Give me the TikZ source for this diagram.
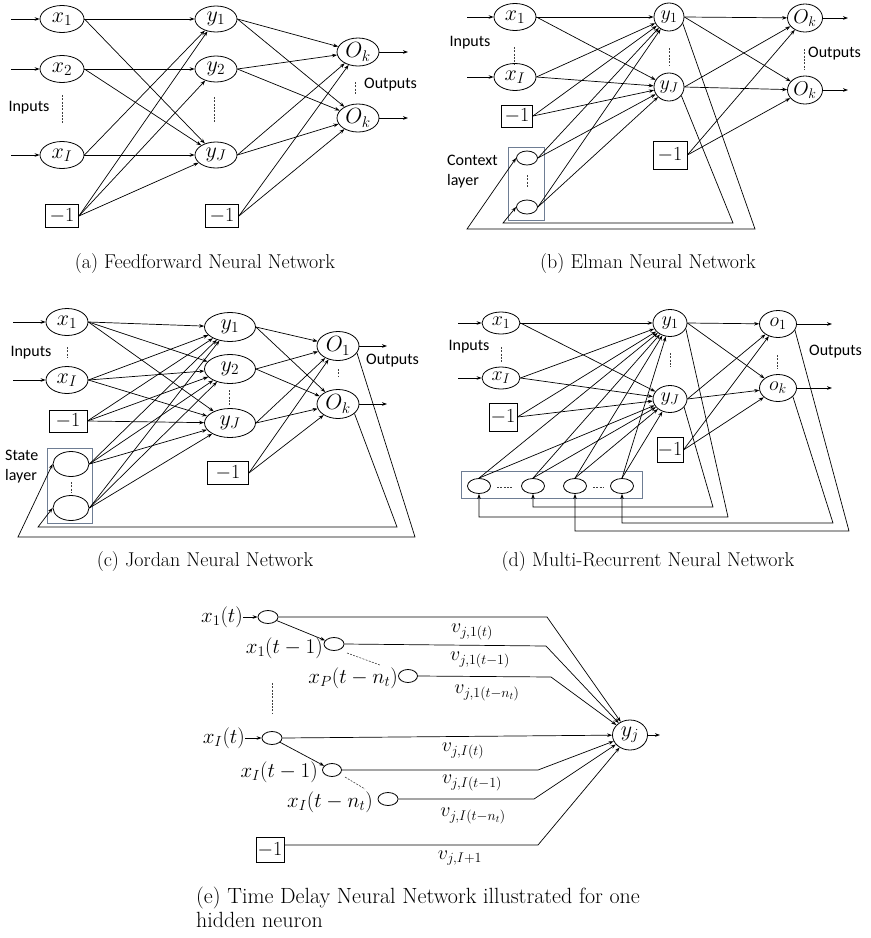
\RequirePackage{fix-cm}
\documentclass[tikz,border=0pt]{standalone}
\usepackage{fontspec}
\newfontfamily\calib{Carlito}
\usetikzlibrary{shapes.geometric,arrows.meta}
\definecolor{laycol}{RGB}{110,125,148}
\begin{document}
\begin{tikzpicture}[x=1pt,y=-1pt,
  nd/.style={draw, ellipse, inner sep=0pt, line width=0.8pt, font=\fontsize{22}{24}\selectfont},
  nds/.style={nd, font=\fontsize{20}{22}\selectfont},
  sz/.style 2 args={minimum width=#1pt, minimum height=#2pt},
  bx/.style={draw, rectangle, inner sep=0pt, line width=0.8pt, font=\fontsize{20}{22}\selectfont},
  ar/.style={-{Stealth[length=5pt,width=3.6pt]}, line width=0.7pt},
  dl/.style={dash pattern=on 2pt off 1.3pt, line width=0.6pt, draw=black!75},
  lay/.style={draw=laycol, line width=0.9pt},
  lbl/.style={font=\calib\fontsize{16}{20}\selectfont, inner sep=0pt},
  captxt/.style={font=\fontsize{20}{23}\selectfont, inner sep=0pt},
  captxte/.style={font=\fontsize{22}{24}\selectfont, inner sep=0pt},
  tx/.style={font=\fontsize{21}{23}\selectfont, inner sep=0pt},
  wl/.style={font=\fontsize{20}{22}\selectfont, inner sep=0pt}
]
\useasboundingbox (0,0) rectangle (871,938);

% ================= (a) =================
\node[nd,sz={44}{27}] (a-x1) at (62,19) {$x_1$};
\node[nd,sz={44}{27}] (a-x2) at (62,69) {$x_2$};
\node[nd,sz={44}{27}] (a-xI) at (62,155) {$x_I$};
\node[nd,sz={42}{26}] (a-y1) at (216,19) {$y_1$};
\node[nd,sz={42}{26}] (a-y2) at (216,69) {$y_2$};
\node[nd,sz={42}{26}] (a-yJ) at (216,155) {$y_J$};
\node[nd,sz={42}{28}] (a-o1) at (358,52) {$O_k$};
\node[nd,sz={42}{28}] (a-o2) at (358,118) {$O_k$};
\node[bx,minimum width=33pt,minimum height=23pt] (a-b1) at (62,216) {$-1$};
\node[bx,minimum width=33pt,minimum height=23pt] (a-b2) at (222,216) {$-1$};
\coordinate (a-i1) at (11,19);
\coordinate (a-i2) at (11,69);
\coordinate (a-i3) at (11,155);
\coordinate (a-q1) at (408,52);
\coordinate (a-q2) at (408,118);
\draw[ar] (a-i1) -- (a-x1);
\draw[ar] (a-i2) -- (a-x2);
\draw[ar] (a-i3) -- (a-xI);
\draw[ar] (a-o1.east) -- (a-q1);
\draw[ar] (a-o2.east) -- (a-q2);
\draw[ar] (a-x1.east) -- (a-y1);
\draw[ar] (a-x1.east) -- (a-yJ);
\draw[ar] (a-x2.east) -- (a-y2);
\draw[ar] (a-x2.east) -- (a-yJ);
\draw[ar] (a-xI.east) -- (a-yJ);
\draw[ar] (a-xI.east) -- (a-y1);
\foreach \t in {y1,y2,yJ} \draw[ar] (a-b1.east) -- (a-\t);
\foreach \s in {y1,y2,yJ} {\draw[ar] (a-\s.east) -- (a-o1); \draw[ar] (a-\s.east) -- (a-o2);}
\draw[ar] (a-b2.east) -- (a-o1);
\draw[ar] (a-b2.east) -- (a-o2);
\draw[dl] (62,95) -- (62,123);
\draw[dl] (214,97) -- (214,123);
\draw[dl] (355,82) -- (355,95);
\node[lbl] (a-in) at (29,108) {Inputs};
\node[lbl,anchor=west] (a-out) at (364,85) {Outputs};
\node[captxt,anchor=base] (a-cap) at (205,268) {(a) Feedforward Neural Network};

% ================= (b) =================
\draw[lay] (508,147) rectangle (544,220);
\node[nd,sz={42}{27}] (b-x1) at (515,17) {$x_1$};
\node[nd,sz={42}{27}] (b-xI) at (515,77) {$x_I$};
\node[nds,sz={30}{28}] (b-y1) at (669,17) {$y_1$};
\node[nds,sz={30}{28}] (b-yJ) at (669,87) {$y_J$};
\node[nds,sz={35}{28}] (b-o1) at (805,18) {$O_k$};
\node[nds,sz={35}{28}] (b-o2) at (805,90) {$O_k$};
\node[bx,minimum width=31pt,minimum height=22pt] (b-b1) at (517,116) {$-1$};
\node[bx,minimum width=34pt,minimum height=28pt] (b-b2) at (670,155) {$-1$};
\node[nd,sz={21}{14}] (b-c1) at (527,158) {};
\node[nd,sz={21}{14}] (b-c2) at (527,207) {};
\coordinate (b-i1) at (467,17);
\coordinate (b-i2) at (467,77);
\coordinate (b-q1) at (848,18);
\coordinate (b-q2) at (848,90);
\draw[ar] (b-i1) -- (b-x1);
\draw[ar] (b-i2) -- (b-xI);
\draw[ar] (b-o1.east) -- (b-q1);
\draw[ar] (b-o2.east) -- (b-q2);
\foreach \s in {x1,xI,b1,c1,c2} {\draw[ar] (b-\s.east) -- (b-y1); \draw[ar] (b-\s.east) -- (b-yJ);}
\foreach \s in {y1,yJ,b2} {\draw[ar] (b-\s.east) -- (b-o1); \draw[ar] (b-\s.east) -- (b-o2);}
\coordinate (b-l1a) at (755,229);
\coordinate (b-l1b) at (467,229);
\coordinate (b-l2a) at (733,223);
\coordinate (b-l2b) at (503,223);
\draw[ar] (b-y1.-25) -- (b-l1a) -- (b-l1b) -- (b-c1.west);
\draw[ar] (b-yJ.-35) -- (b-l2a) -- (b-l2b) -- (b-c2.west);
\draw[dl] (514,47) -- (514,65);
\draw[dl] (669,48) -- (669,65);
\draw[dl] (804,49) -- (804,70);
\draw[dl] (527,175) -- (527,188);
\node[lbl] (b-in) at (470,43) {Inputs};
\node[lbl,anchor=west] (b-out) at (808,54) {Outputs};
\node[lbl,anchor=west,align=left] (b-ctx) at (447,172) {Context\\layer};
\node[captxt,anchor=base] (b-cap) at (648,268) {(b) Elman Neural Network};

% ================= (c) =================
\draw[lay] (47,448) rectangle (92,523);
\node[nd,sz={42}{27}] (c-x1) at (67,322) {$x_1$};
\node[nd,sz={42}{27}] (c-xI) at (67,380) {$x_I$};
\node[nd,sz={51}{29}] (c-y1) at (230,327) {$y_1$};
\node[nd,sz={51}{29}] (c-y2) at (230,369) {$y_2$};
\node[nd,sz={51}{29}] (c-yJ) at (230,423) {$y_J$};
\node[nd,sz={42}{29}] (c-o1) at (338,346) {$O_1$};
\node[nd,sz={42}{29}] (c-o2) at (338,404) {$O_k$};
\node[bx,minimum width=38pt,minimum height=22pt] (c-b1) at (68,421) {$-1$};
\node[bx,minimum width=41pt,minimum height=23pt] (c-b2) at (228,473) {$-1$};
\node[nd,sz={36}{25}] (c-s1) at (71,464) {};
\node[nd,sz={36}{25}] (c-s2) at (71,508) {};
\coordinate (c-i1) at (13,322);
\coordinate (c-i2) at (13,380);
\coordinate (c-q1) at (387,346);
\coordinate (c-q2) at (387,404);
\draw[ar] (c-i1) -- (c-x1);
\draw[ar] (c-i2) -- (c-xI);
\draw[ar] (c-o1.east) -- (c-q1);
\draw[ar] (c-o2.east) -- (c-q2);
\foreach \s in {x1,xI,b1,s1,s2} {\foreach \t in {y1,y2,yJ} \draw[ar] (c-\s.east) -- (c-\t);}
\foreach \s in {y1,y2,yJ,b2} {\draw[ar] (c-\s.east) -- (c-o1); \draw[ar] (c-\s.east) -- (c-o2);}
\coordinate (c-l1a) at (415,537);
\coordinate (c-l1b) at (18,537);
\coordinate (c-l2a) at (397,527);
\coordinate (c-l2b) at (38,527);
\draw[ar] (c-o1.-20) -- (c-l1a) -- (c-l1b) -- (c-s1.west);
\draw[ar] (c-o2.-30) -- (c-l2a) -- (c-l2b) -- (c-s2.west);
\draw[dl] (67,347) -- (67,357);
\draw[dl] (229,390) -- (229,405);
\draw[dl] (338,369) -- (338,377);
\draw[dl] (71,482) -- (71,492);
\node[lbl] (c-in) at (31,353) {Inputs};
\node[lbl,anchor=west] (c-out) at (366,361) {Outputs};
\node[lbl,anchor=west,align=left] (c-st) at (5,467) {State\\layer};
\node[captxt,anchor=base] (c-cap) at (205,566) {(c) Jordan Neural Network};

% ================= (d) =================
\draw[lay] (461,471) rectangle (642,498);
\node[nds,sz={38}{22}] (d-x1) at (501,323) {$x_1$};
\node[nds,sz={38}{22}] (d-xI) at (501,378) {$x_I$};
\node[nds,sz={34}{27}] (d-y1) at (670,323) {$y_1$};
\node[nds,sz={34}{27}] (d-yJ) at (670,399) {$y_J$};
\node[nds,sz={37}{27}] (d-o1) at (778,324) {$o_1$};
\node[nds,sz={37}{27}] (d-o2) at (778,388) {$o_k$};
\node[bx,minimum width=28pt,minimum height=28pt] (d-b1) at (503,417) {$-1$};
\node[bx,minimum width=26pt,minimum height=25pt] (d-b2) at (670,450) {$-1$};
\node[nd,sz={23}{15}] (d-m1) at (479,486) {};
\node[nd,sz={23}{15}] (d-m2) at (533,486) {};
\node[nd,sz={23}{15}] (d-m3) at (575,486) {};
\node[nd,sz={23}{15}] (d-m4) at (622,486) {};
\coordinate (d-i1) at (458,323);
\coordinate (d-i2) at (458,378);
\coordinate (d-q1) at (832,324);
\coordinate (d-q2) at (832,388);
\draw[ar] (d-i1) -- (d-x1);
\draw[ar] (d-i2) -- (d-xI);
\draw[ar] (d-o1.east) -- (d-q1);
\draw[ar] (d-o2.east) -- (d-q2);
\foreach \s in {x1,xI,b1} {\draw[ar] (d-\s.east) -- (d-y1); \draw[ar] (d-\s.east) -- (d-yJ);}
\foreach \s in {m1,m2,m3,m4} {\draw[ar] (d-\s.north) -- (d-y1); \draw[ar] (d-\s.north) -- (d-yJ);}
\foreach \s in {y1,yJ,b2} {\draw[ar] (d-\s.east) -- (d-o1); \draw[ar] (d-\s.east) -- (d-o2);}
\coordinate (d-l1a) at (728,517);
\coordinate (d-l1b) at (479,517);
\coordinate (d-l2a) at (713,507);
\coordinate (d-l2b) at (533,507);
\coordinate (d-l3a) at (849,531);
\coordinate (d-l3b) at (575,531);
\coordinate (d-l4a) at (833,523);
\coordinate (d-l4b) at (622,523);
\draw[ar] (d-y1.-20) -- (d-l1a) -- (d-l1b) -- (d-m1.south);
\draw[ar] (d-yJ.-30) -- (d-l2a) -- (d-l2b) -- (d-m2.south);
\draw[ar] (d-o1.-20) -- (d-l3a) -- (d-l3b) -- (d-m3.south);
\draw[ar] (d-o2.-30) -- (d-l4a) -- (d-l4b) -- (d-m4.south);
\draw[dl] (501,347) -- (501,362);
\draw[dl] (670,353) -- (670,367);
\draw[dl] (777,355) -- (777,369);
\draw[dl] (497,487) -- (512,487);
\draw[dl] (593,487) -- (603,487);
\node[lbl] (d-in) at (469,347) {Inputs};
\node[lbl,anchor=west] (d-out) at (809,352) {Outputs};
\node[captxt,anchor=base] (d-cap) at (648,566) {(d) Multi-Recurrent Neural Network};

% ================= (e) =================
\node[nd,sz={20}{13}] (e-n1) at (268,617) {};
\node[nd,sz={20}{13}] (e-n2) at (334,644) {};
\node[nd,sz={19}{13}] (e-n3) at (408,676) {};
\node[nd,sz={20}{13}] (e-n4) at (272,738) {};
\node[nd,sz={19}{13}] (e-n5) at (332,770) {};
\node[nd,sz={20}{13}] (e-n6) at (388,799) {};
\node[nd,sz={35}{30}] (e-yj) at (630,735) {$y_j$};
\node[bx,minimum width=28pt,minimum height=25pt] (e-b) at (270,850) {$-1$};
\node[tx,anchor=east] (e-t1) at (243,617) {$x_1(t)$};
\node[tx,anchor=east] (e-t2) at (323,648) {$x_1(t-1)$};
\node[tx,anchor=east] (e-t3) at (398,678) {$x_P(t-n_t)$};
\node[tx,anchor=east] (e-t4) at (245,738) {$x_I(t)$};
\node[tx,anchor=east] (e-t5) at (318,772) {$x_I(t-1)$};
\node[tx,anchor=east] (e-t6) at (373,802) {$x_I(t-n_t)$};
\coordinate (e-q) at (660,735);
\coordinate (e-k1) at (547,617);
\coordinate (e-k2) at (546,646);
\coordinate (e-k3) at (551,677);
\coordinate (e-k5) at (538,770);
\coordinate (e-k6) at (534,799);
\coordinate (e-k7) at (538,845);
\draw[ar] (e-t1) -- (e-n1);
\draw[ar] (e-t4) -- (e-n4);
\draw[ar] (e-n1) -- (e-n2);
\draw[ar] (e-n4) -- (e-n5);
\draw[ar] (e-n1.east) -- (e-k1) -- (e-yj);
\draw[ar] (e-n2.east) -- (e-k2) -- (e-yj);
\draw[ar] (e-n3.east) -- (e-k3) -- (e-yj);
\draw[ar] (e-n4.east) -- (e-yj);
\draw[ar] (e-n5.east) -- (e-k5) -- (e-yj);
\draw[ar] (e-n6.east) -- (e-k6) -- (e-yj);
\draw[ar] (e-b.east |- e-k7) -- (e-k7) -- (e-yj);
\draw[ar] (e-yj.east) -- (e-q);
\draw[dl] (347,653) -- (380,665);
\draw[dl] (345,777) -- (365,789);
\draw[dl] (272,683) -- (272,713);
\node[wl] (e-w1) at (472,632) {$v_{j,1(t)}$};
\node[wl] (e-w2) at (480,660) {$v_{j,1(t-1)}$};
\node[wl] (e-w3) at (487,693) {$v_{j,1(t-n_t)}$};
\node[wl] (e-w4) at (463,751) {$v_{j,I(t)}$};
\node[wl] (e-w5) at (472,783) {$v_{j,I(t-1)}$};
\node[wl] (e-w6) at (473,816) {$v_{j,I(t-n_t)}$};
\node[wl] (e-w7) at (460,858) {$v_{j,I+1}$};
\node[captxte,anchor=base west] (e-cap1) at (196,903) {(e) Time Delay Neural Network illustrated for one};
\node[captxte,anchor=base west] (e-cap2) at (196,927) {hidden neuron};
\end{tikzpicture}
\end{document}
